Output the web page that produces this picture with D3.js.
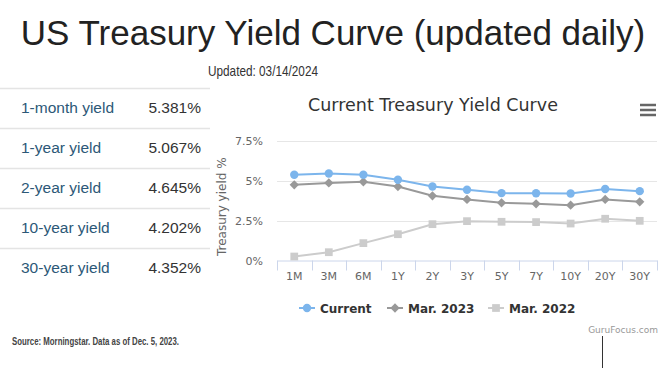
<!DOCTYPE html>
<html>
<head>
<meta charset="utf-8">
<script src="https://cdn.jsdelivr.net/npm/d3@7"></script>
<style>
  body { margin: 0; background: #fff; }
  svg { display: block; }
</style>
</head>
<body>
<div id="chart"></div>
<script>
// tenors on the x axis
const tenors = ["1M", "3M", "6M", "1Y", "2Y", "3Y", "5Y", "7Y", "10Y", "20Y", "30Y"];

// yields in %
const current = [5.381, 5.46, 5.38, 5.067, 4.645, 4.44, 4.23, 4.22, 4.202, 4.49, 4.352];
const mar2023 = [4.75, 4.87, 4.94, 4.64, 4.06, 3.83, 3.62, 3.56, 3.47, 3.83, 3.68];
const mar2022 = [0.25, 0.52, 1.09, 1.65, 2.28, 2.47, 2.43, 2.41, 2.32, 2.62, 2.49];

const yTicks = [0, 2.5, 5, 7.5];
const yTickLabels = ["0%", "2.5%", "5%", "7.5%"];

// left table
const tableLabels = ["1-month yield", "1-year yield", "2-year yield", "10-year yield", "30-year yield"];
const tableValues = ["5.381%", "5.067%", "4.645%", "4.202%", "4.352%"];

const W = 666, H = 370;
const svg = d3.select("#chart").append("svg")
  .attr("width", W)
  .attr("height", H);

// page title
svg.append("text")
  .attr("x", 333)
  .attr("y", 45)
  .attr("text-anchor", "middle")
  .style("font-family", "Liberation Sans, Arial, sans-serif")
  .style("font-size", "35px")
  .style("fill", "#222")
  .text("US Treasury Yield Curve (updated daily)");

svg.append("text")
  .attr("x", 263)
  .attr("y", 76)
  .attr("text-anchor", "middle")
  .attr("textLength", 110)
  .attr("lengthAdjust", "spacingAndGlyphs")
  .style("font-family", "Liberation Sans, Arial, sans-serif")
  .style("font-size", "15px")
  .style("fill", "#333")
  .text("Updated: 03/14/2024");

// table on the left
const rowH = 40, tableTop = 88;
const table = svg.append("g");

table.selectAll("line.row")
  .data(d3.range(tableLabels.length))
  .enter()
  .append("line")
  .attr("class", "row")
  .attr("x1", 0)
  .attr("x2", 210)
  .attr("y1", d => tableTop + d * rowH + 0.5)
  .attr("y2", d => tableTop + d * rowH + 0.5)
  .attr("stroke", "#e4e4e4")
  .attr("stroke-width", 1.5);

table.selectAll("text.lbl")
  .data(tableLabels)
  .enter()
  .append("text")
  .attr("class", "lbl")
  .attr("x", 21)
  .attr("y", (d, i) => tableTop + i * rowH + 25)
  .style("font-family", "Liberation Sans, Arial, sans-serif")
  .style("font-size", "15.5px")
  .style("fill", "#2c5877")
  .text(d => d);

table.selectAll("text.val")
  .data(tableValues)
  .enter()
  .append("text")
  .attr("class", "val")
  .attr("x", 201)
  .attr("y", (d, i) => tableTop + i * rowH + 25)
  .attr("text-anchor", "end")
  .style("font-family", "Liberation Sans, Arial, sans-serif")
  .style("font-size", "15.5px")
  .style("fill", "#333")
  .text(d => d);

svg.append("text")
  .attr("x", 12)
  .attr("y", 345)
  .attr("textLength", 167)
  .attr("lengthAdjust", "spacingAndGlyphs")
  .style("font-family", "Liberation Sans, Arial, sans-serif")
  .style("font-size", "11px")
  .style("font-weight", "bold")
  .style("fill", "#444")
  .text("Source: Morningstar. Data as of Dec. 5, 2023.");

// ---- chart ----
const chartFont = "DejaVu Sans, Verdana, sans-serif";
const plot = { left: 277, right: 657, top: 141, bottom: 260.5 };

const x = d3.scaleBand()
  .domain(tenors)
  .range([plot.left, plot.right])
  .padding(0);

const y = d3.scaleLinear()
  .domain([0, 7.5])
  .range([plot.bottom, plot.top]);

svg.append("text")
  .attr("x", 433)
  .attr("y", 111)
  .attr("text-anchor", "middle")
  .style("font-family", chartFont)
  .style("font-size", "17.5px")
  .style("fill", "#333")
  .text("Current Treasury Yield Curve");

// menu icon
svg.append("g")
  .selectAll("line")
  .data([0, 1, 2])
  .enter()
  .append("line")
  .attr("x1", 640)
  .attr("x2", 656)
  .attr("y1", d => 105 + d * 5)
  .attr("y2", d => 105 + d * 5)
  .attr("stroke", "#666")
  .attr("stroke-width", 2.5);

// gridlines
svg.append("g")
  .selectAll("line")
  .data(yTicks.filter(d => d > 0))
  .enter()
  .append("line")
  .attr("x1", plot.left)
  .attr("x2", plot.right)
  .attr("y1", d => Math.round(y(d)) + 0.5)
  .attr("y2", d => Math.round(y(d)) + 0.5)
  .attr("stroke", "#e6e6e6");

// y axis labels
const yAxis = svg.append("g")
  .attr("transform", `translate(${plot.left - 14},0)`)
  .call(d3.axisLeft(y).tickValues(yTicks).tickSize(0).tickFormat((d, i) => yTickLabels[i]));
yAxis.select(".domain").remove();
yAxis.selectAll("text")
  .attr("x", 0)
  .attr("dy", "0.35em")
  .style("font-family", chartFont)
  .style("font-size", "11px")
  .style("fill", "#666");

svg.append("text")
  .attr("transform", `translate(226,${(plot.top + plot.bottom) / 2 + 6}) rotate(-90)`)
  .attr("text-anchor", "middle")
  .style("font-family", chartFont)
  .style("font-size", "12px")
  .style("fill", "#666")
  .text("Treasury yield %");

// x axis
const xAxis = svg.append("g")
  .attr("transform", `translate(0,${plot.bottom})`)
  .call(d3.axisBottom(x).tickSize(0).tickSizeOuter(0));
xAxis.select(".domain")
  .attr("stroke", "#ccd6eb");
xAxis.selectAll("text")
  .attr("y", 12)
  .attr("dy", "0.71em")
  .style("font-family", chartFont)
  .style("font-size", "11px")
  .style("fill", "#666");

// category boundary ticks
xAxis.append("g")
  .selectAll("line")
  .data(tenors.concat(["end"]))
  .enter()
  .append("line")
  .attr("x1", (d, i) => Math.round(i < tenors.length ? x(d) : plot.right) + 0.5)
  .attr("x2", (d, i) => Math.round(i < tenors.length ? x(d) : plot.right) + 0.5)
  .attr("y1", 0)
  .attr("y2", 10)
  .attr("stroke", "#ccd6eb");

const cx = d => x(d) + x.bandwidth() / 2;

const series = [
  { name: "Mar. 2022", values: mar2022, color: "#cccccc", symbol: d3.symbolSquare, size: 60 },
  { name: "Mar. 2023", values: mar2023, color: "#999999", symbol: d3.symbolDiamond2, size: 55 },
  { name: "Current", values: current, color: "#7cb5ec", symbol: d3.symbolCircle, size: 55 }
];

const line = d3.line()
  .x((d, i) => cx(tenors[i]))
  .y(d => y(d));

series.forEach(s => {
  svg.append("path")
    .datum(s.values)
    .attr("fill", "none")
    .attr("stroke", s.color)
    .attr("stroke-width", 2)
    .attr("d", line);

  svg.append("g")
    .selectAll("path")
    .data(s.values)
    .enter()
    .append("path")
    .attr("transform", (d, i) => `translate(${cx(tenors[i])},${y(d)})`)
    .attr("d", d3.symbol().type(s.symbol).size(s.size))
    .attr("fill", s.color);
});

// legend
const legendItems = [series[2], series[1], series[0]];
const legendX = [299, 387, 488];
const legend = svg.append("g");
legendItems.forEach((s, i) => {
  const g = legend.append("g").attr("transform", `translate(${legendX[i]},308)`);
  g.append("line")
    .attr("x1", 0).attr("x2", 16)
    .attr("stroke", s.color)
    .attr("stroke-width", 2);
  g.append("path")
    .attr("transform", "translate(8,0)")
    .attr("d", d3.symbol().type(s.symbol).size(s.size))
    .attr("fill", s.color);
  g.append("text")
    .attr("x", 21)
    .attr("y", 4.5)
    .style("font-family", chartFont)
    .style("font-size", "12px")
    .style("font-weight", "bold")
    .style("fill", "#333")
    .text(s.name);
});

svg.append("text")
  .attr("x", 658)
  .attr("y", 333)
  .attr("text-anchor", "end")
  .style("font-family", chartFont)
  .style("font-size", "9px")
  .style("fill", "#999")
  .text("GuruFocus.com");

svg.append("line")
  .attr("x1", 602.5).attr("x2", 602.5)
  .attr("y1", 336).attr("y2", 368)
  .attr("stroke", "#333")
  .attr("stroke-width", 1);
</script>
</body>
</html>
